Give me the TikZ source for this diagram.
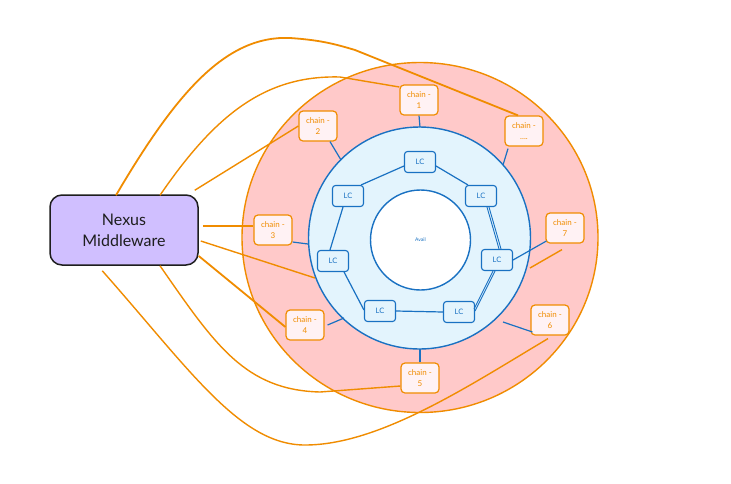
\documentclass[tikz,border=0pt]{standalone}
\usepackage{fontspec}
\setmainfont{Lato}
\usetikzlibrary{calc}
\definecolor{corange}{HTML}{F08C00}
\definecolor{cpink}{HTML}{FFC9C9}
\definecolor{cpinkw}{HTML}{FFF2F4}
\definecolor{cblue}{HTML}{1971C2}
\definecolor{cbluel}{HTML}{E3F4FD}
\definecolor{clav}{HTML}{D0BFFF}
\definecolor{cdark}{HTML}{1E1E1E}
\begin{document}
\begin{tikzpicture}[x=1pt,y=-1pt,
  chainbox/.style={draw=corange, fill=cpinkw, rounded corners=4pt, line width=1.2pt,
    minimum width=38pt, minimum height=30pt, inner sep=0pt, text=corange,
    font=\fontsize{8}{11}\selectfont, align=center},
  lcbox/.style={draw=cblue, fill=cbluel, rounded corners=3pt, line width=1.1pt,
    minimum width=31pt, minimum height=21pt, inner sep=0pt, text=cblue,
    font=\fontsize{7.5}{9}\selectfont},
  oline/.style={draw=corange, line width=1.4pt},
  bline/.style={draw=cblue, line width=1.2pt},
]
\useasboundingbox (0,0) rectangle (731,483);
\fill[white] (0,0) rectangle (731,483);

% circles
\draw[corange, line width=1.4pt, fill=cpink] (420,237.5) ellipse [x radius=178pt, y radius=175pt];
\draw[cblue, line width=1.4pt, fill=cbluel] (419.5,238) circle (111pt);
\draw[cblue, line width=1.4pt, fill=white] (420.5,240) circle (50pt);
\node[text=cblue, font=\fontsize{5}{6}\selectfont] (avail) at (420.5,240) {Avail};

% circle contact points
\coordinate (p1) at (420,127);
\coordinate (p2) at (341,160);
\coordinate (pd) at (503,165);
\coordinate (p3) at (308,244);
\coordinate (p6) at (503,322);
\coordinate (p4) at (344,318);
\coordinate (p5) at (420,349);
\coordinate (pn) at (315,278);
\coordinate (p7) at (530,268);

% nodes
\node[draw=cdark, fill=clav, rounded corners=12pt, line width=1.5pt, minimum width=148pt,
  minimum height=70pt, inner sep=0pt, font=\fontsize{16}{21}\selectfont, align=center, text=cdark]
  (nx) at (124,230) {Nexus\\Middleware};

\node[chainbox] (c1) at (419,100) {chain -\\1};
\node[chainbox] (c2) at (318,126) {chain -\\2};
\node[chainbox] (cd) at (524,131) {chain -\\....};
\node[chainbox] (c3) at (273,230) {chain -\\3};
\node[chainbox] (c7) at (565,228) {chain -\\7};
\node[chainbox] (c4) at (305,325) {chain -\\4};
\node[chainbox] (c6) at (550,320) {chain -\\6};
\node[chainbox] (c5) at (420,378) {chain -\\5};

\node[lcbox] (l1) at (420,162) {LC};
\node[lcbox] (l2) at (481,196) {LC};
\node[lcbox] (l3) at (497,260) {LC};
\node[lcbox] (l4) at (459,312) {LC};
\node[lcbox] (l5) at (380,311) {LC};
\node[lcbox] (l6) at (333,261) {LC};
\node[lcbox] (l7) at (348,196) {LC};

% LC ring connectors
\draw[bline] ($(l1.west)+(0,4)$) -- ($(l7.north east)+(-3,0)$);
\draw[bline] ($(l1.east)+(0,4)$) -- ($(l2.north west)+(3,0)$);
\draw[bline] ($(l7.south)+(-5,0)$) -- ($(l6.north)+(-3,0)$);
\draw[bline, line width=0.9pt] ($(l2.south)+(6,0)$) -- ($(l3.north)+(2,0)$);
\draw[bline, line width=0.9pt] ($(l2.south)+(8,0)$) -- ($(l3.north)+(4,0)$);
\draw[bline] ($(l6.south east)+(-5,0)$) -- ($(l5.west)+(0,-1)$);
\draw[bline, line width=0.9pt] ($(l3.south)+(-4,0)$) -- ($(l4.east)+(-1,-3)$);
\draw[bline, line width=0.9pt] ($(l3.south)+(-2,0)$) -- ($(l4.east)+(0,-1)$);
\draw[bline] (l5.east) -- (l4.west);

% chain to ring connectors
\draw[bline] (c1.south) -- (p1);
\draw[bline] ($(c2.south)+(12,0)$) -- (p2);
\draw[bline] ($(cd.south)+(-16,2)$) -- (pd);
\draw[bline] ($(c3.east)+(0,12)$) -- (p3);
\draw[bline] ($(c7.west)+(1,13)$) -- (l3.east);
\draw[bline] ($(c6.west)+(2,12)$) -- (p6);
\draw[bline] ($(c4.east)+(3,0)$) -- (p4);
\draw[bline] (c5.north) -- (p5);

% Nexus connectors
\draw[oline, line width=1.8pt] ($(nx.north)+(-8,1)$) .. controls (175,95) and (225,35) .. (290,38)
  .. controls (320,40) and (335,44) .. (355,50) -- ($(cd.north)+(-6,0)$);
\draw[oline] ($(nx.north)+(36,1)$) .. controls (215,115) and (265,75) .. (340,77) -- ($(c1.west)+(0,-13)$);
\draw[oline] ($(nx.north east)+(-4,-4)$) -- (c2.west);
\draw[oline] ($(nx.east)+(4,-4)$) -- ($(c3.west)+(0,-4)$);
\draw[oline] ($(nx.east)+(2,11)$) -- (pn);
\draw[oline, line width=1.8pt] ($(nx.east)+(0,26)$) -- ($(c4.west)+(0,2)$);
\draw[oline] ($(nx.south)+(36,0)$) .. controls (215,345) and (245,390) .. (320,392) -- ($(c5.west)+(0,8)$);
\draw[oline] ($(nx.south west)+(53,5)$) .. controls (190,370) and (240,445) .. (305,445)
  .. controls (380,445) and (470,385) .. ($(c6.south)+(-2,3)$);
\draw[oline] ($(c7.south)+(-3,6)$) -- (p7);
\end{tikzpicture}
\end{document}
